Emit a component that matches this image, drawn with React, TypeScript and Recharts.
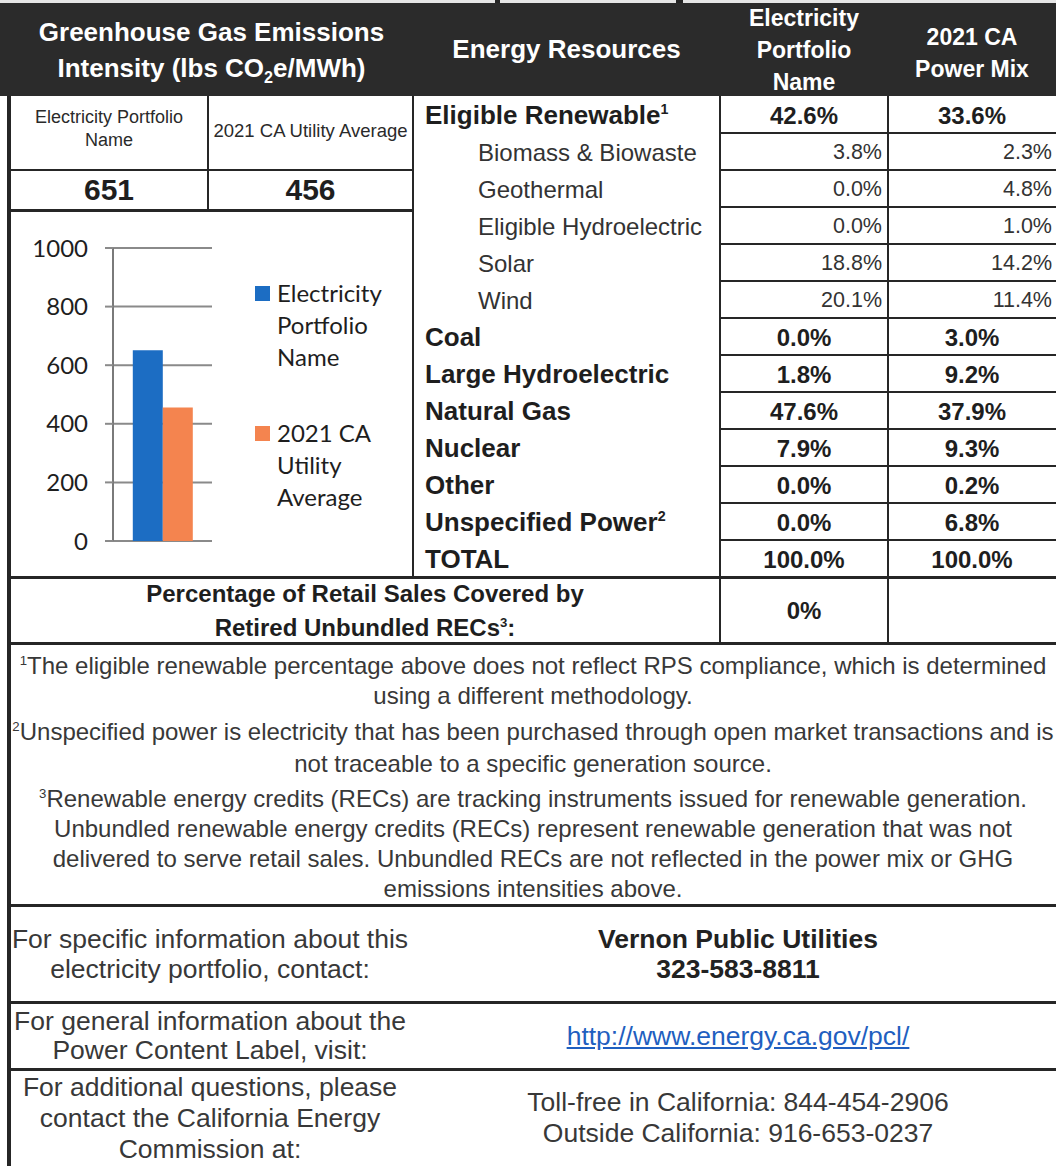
import React from "react";
import { Bar, BarChart, CartesianGrid, Legend, XAxis, YAxis } from "recharts";

// GHG intensity chart
const ghgCategories = ["GHG Emissions Intensity"];
const ghgPortfolio = [651];
const ghgUtilityAverage = [456];
const ghgTicks = [0, 200, 400, 600, 800, 1000];
const legendOrder = ["portfolio", "average"];
const legendLines: Record<string, string[]> = {
  portfolio: ["Electricity", "Portfolio", "Name"],
  average: ["2021 CA", "Utility", "Average"],
};

// power mix table
const resources = [
  "Eligible Renewable",
  "Biomass & Biowaste",
  "Geothermal",
  "Eligible Hydroelectric",
  "Solar",
  "Wind",
  "Coal",
  "Large Hydroelectric",
  "Natural Gas",
  "Nuclear",
  "Other",
  "Unspecified Power",
  "TOTAL",
];
const renewableParts = ["Biomass & Biowaste", "Geothermal", "Eligible Hydroelectric", "Solar", "Wind"];
const resourceNotes: Record<string, string> = { "Eligible Renewable": "1", "Unspecified Power": "2" };
const portfolioMix = [42.6, 3.8, 0.0, 0.0, 18.8, 20.1, 0.0, 1.8, 47.6, 7.9, 0.0, 0.0, 100.0];
const caPowerMix = [33.6, 2.3, 4.8, 1.0, 14.2, 11.4, 3.0, 9.2, 37.9, 9.3, 0.2, 6.8, 100.0];
const retiredRecs = [0];

const chartData = ghgCategories.map((name, i) => ({
  name,
  portfolio: ghgPortfolio[i],
  average: ghgUtilityAverage[i],
}));

const FONT = '"Liberation Sans", Arial, sans-serif';
const CHART_FONT = "Lato, sans-serif";
const LINE = "#262626";
const BLUE = "#1c6dc3";
const ORANGE = "#f4844f";

const ROW_TOP = 96;
const ROW_H = 37;

function HLine({ x1, x2, y, w = 2 }: { x1: number; x2: number; y: number; w?: number }) {
  return <div style={{ position: "absolute", left: x1, top: y - w / 2, width: x2 - x1, height: w, background: LINE }} />;
}

function VLine({ x, y1, y2, w = 2 }: { x: number; y1: number; y2: number; w?: number }) {
  return <div style={{ position: "absolute", left: x - w / 2, top: y1, width: w, height: y2 - y1, background: LINE }} />;
}

function Cell({
  left,
  top,
  width,
  height,
  align = "center",
  style,
  children,
}: {
  left: number;
  top: number;
  width: number;
  height: number;
  align?: "left" | "center" | "right";
  style?: React.CSSProperties;
  children: React.ReactNode;
}) {
  return (
    <div
      style={{
        position: "absolute",
        left,
        top,
        width,
        height,
        display: "flex",
        flexDirection: "column",
        justifyContent: "center",
        alignItems: align === "left" ? "flex-start" : align === "right" ? "flex-end" : "center",
        textAlign: align,
        whiteSpace: "nowrap",
        ...style,
      }}
    >
      {children}
    </div>
  );
}

const sup: React.CSSProperties = { fontSize: "0.55em", verticalAlign: "super", lineHeight: 0 };
const sub: React.CSSProperties = { fontSize: "0.62em", verticalAlign: "sub", lineHeight: 0 };

function LegendContent(props: any) {
  const payload = props.payload || [];
  return (
    <div style={{ fontFamily: CHART_FONT, fontSize: 24, color: "#1e1e1e", lineHeight: "32px", textAlign: "left" }}>
      {legendOrder.map((key, i) => {
        const entry = payload.find((p: any) => p.dataKey === key);
        if (!entry) return null;
        return (
          <div key={key} style={{ display: "flex", marginTop: i === 0 ? 0 : 44 }}>
            <div style={{ width: 15, height: 15, marginTop: 9, marginRight: 7, background: entry.color }} />
            <div>
              {legendLines[key].map((l) => (
                <div key={l}>{l}</div>
              ))}
            </div>
          </div>
        );
      })}
    </div>
  );
}

function GhgChart() {
  return (
    <BarChart
      width={402}
      height={366}
      data={chartData}
      margin={{ top: 36, right: 200, bottom: 37, left: 0 }}
      barCategoryGap="20%"
      barGap={0}
    >
      <CartesianGrid vertical={false} stroke="#8a8a8a" strokeWidth={2} />
      <XAxis dataKey="name" hide />
      <YAxis
        width={103}
        domain={[0, 1000]}
        ticks={ghgTicks}
        interval={0}
        axisLine={{ stroke: "#7a7a7a", strokeWidth: 2 }}
        tickLine={{ stroke: "#8a8a8a", strokeWidth: 2 }}
        tickSize={8}
        tickMargin={17}
        tick={{ fill: "#1e1e1e", fontSize: 24, fontFamily: CHART_FONT }}
      />
      <Legend
        layout="horizontal"
        verticalAlign="middle"
        align="center"
        content={LegendContent}
        wrapperStyle={{ left: 245, top: 65, width: 150, height: 260 }}
      />
      <Bar dataKey="portfolio" fill={BLUE} isAnimationActive={false} />
      <Bar dataKey="average" fill={ORANGE} isAnimationActive={false} />
    </BarChart>
  );
}

const fmt = (v: number) => v.toFixed(1) + "%";

const noteStyle: React.CSSProperties = {
  position: "absolute",
  left: 10,
  width: 1046,
  textAlign: "center",
  fontSize: 24,
  color: "#383838",
  whiteSpace: "nowrap",
};

export default function App() {
  const rowsBottom = ROW_TOP + resources.length * ROW_H;
  return (
    <div
      style={{
        position: "absolute",
        left: 0,
        top: 0,
        width: 1056,
        height: 1166,
        background: "#fff",
        overflow: "hidden",
        fontFamily: FONT,
        color: "#2a2a2a",
      }}
    >
      {/* top strip + header band */}
      <div style={{ position: "absolute", left: 0, top: 0, width: 1056, height: 3, background: "#e6e6e6" }} />
      <div style={{ position: "absolute", left: 495, top: 0, width: 5, height: 3, background: LINE }} />
      <div style={{ position: "absolute", left: 676, top: 0, width: 7, height: 3, background: LINE }} />
      <div style={{ position: "absolute", left: 0, top: 3, width: 1056, height: ROW_TOP - 3, background: "#2b2b2b" }} />

      <Cell left={10} top={3} width={403} height={93} style={{ color: "#fff", fontWeight: 700, fontSize: 26, lineHeight: "36px" }}>
        <div>Greenhouse Gas Emissions</div>
        <div>
          Intensity (lbs CO<span style={sub}>2</span>e/MWh)
        </div>
      </Cell>
      <Cell left={413} top={3} width={307} height={93} style={{ color: "#fff", fontWeight: 700, fontSize: 26 }}>
        Energy Resources
      </Cell>
      <Cell left={720} top={2} width={168} height={96} style={{ color: "#fff", fontWeight: 700, fontSize: 23, lineHeight: "32px" }}>
        <div>Electricity</div>
        <div>Portfolio</div>
        <div>Name</div>
      </Cell>
      <Cell left={888} top={3} width={168} height={99} style={{ color: "#fff", fontWeight: 700, fontSize: 23, lineHeight: "32px" }}>
        <div>2021 CA</div>
        <div>Power Mix</div>
      </Cell>

      {/* GHG labels and values */}
      <Cell left={10} top={ROW_TOP} width={198} height={74} style={{ fontSize: 18, lineHeight: "23px", justifyContent: "flex-start", paddingTop: 10, boxSizing: "border-box" }}>
        <div>Electricity Portfolio</div>
        <div>Name</div>
      </Cell>
      <Cell left={208} top={ROW_TOP} width={205} height={70} style={{ fontSize: 18.5 }}>
        2021 CA Utility Average
      </Cell>
      <Cell left={10} top={170} width={198} height={40} style={{ fontSize: 30, fontWeight: 700, color: "#1e1e1e" }}>
        {ghgPortfolio[0]}
      </Cell>
      <Cell left={208} top={170} width={205} height={40} style={{ fontSize: 30, fontWeight: 700, color: "#1e1e1e" }}>
        {ghgUtilityAverage[0]}
      </Cell>
      <div style={{ position: "absolute", left: 10, top: 212 }}>
        <GhgChart />
      </div>

      {/* power mix rows */}
      {resources.map((name, i) => {
        const top = ROW_TOP + i * ROW_H;
        const part = renewableParts.includes(name);
        const note = resourceNotes[name];
        return (
          <React.Fragment key={name}>
            <Cell
              left={part ? 478 : 425}
              top={top + 1}
              width={290}
              height={ROW_H}
              align="left"
              style={part ? { fontSize: 24, color: "#333" } : { fontSize: 26, fontWeight: 700, color: "#1e1e1e" }}
            >
              <div>
                {name}
                {note && <span style={sup}>{note}</span>}
              </div>
            </Cell>
            <Cell
              left={720}
              top={top + 1}
              width={168}
              height={ROW_H}
              align={part ? "right" : "center"}
              style={part ? { fontSize: 21.5, color: "#333", paddingRight: 6, boxSizing: "border-box" } : { fontSize: 24, fontWeight: 700, color: "#1e1e1e" }}
            >
              {fmt(portfolioMix[i])}
            </Cell>
            <Cell
              left={888}
              top={top + 1}
              width={168}
              height={ROW_H}
              align={part ? "right" : "center"}
              style={part ? { fontSize: 21.5, color: "#333", paddingRight: 4, boxSizing: "border-box" } : { fontSize: 24, fontWeight: 700, color: "#1e1e1e" }}
            >
              {fmt(caPowerMix[i])}
            </Cell>
            {i > 0 && <HLine x1={720} x2={1056} y={top} />}
          </React.Fragment>
        );
      })}

      {/* retired unbundled RECs */}
      <Cell left={10} top={578} width={710} height={65} style={{ fontSize: 24, fontWeight: 700, color: "#1e1e1e", lineHeight: "34px" }}>
        <div>Percentage of Retail Sales Covered by</div>
        <div>
          Retired Unbundled RECs<span style={sup}>3</span>:
        </div>
      </Cell>
      <Cell left={720} top={578} width={168} height={65} style={{ fontSize: 24, fontWeight: 700, color: "#1e1e1e" }}>
        {retiredRecs[0]}%
      </Cell>

      {/* footnotes */}
      <div style={{ ...noteStyle, top: 651, lineHeight: "30px" }}>
        <span style={sup}>1</span>The eligible renewable percentage above does not reflect RPS compliance, which is determined
        <br />
        using a different methodology.
      </div>
      <div style={{ ...noteStyle, top: 716, lineHeight: "32px" }}>
        <span style={sup}>2</span>Unspecified power is electricity that has been purchased through open market transactions and is
        <br />
        not traceable to a specific generation source.
      </div>
      <div style={{ ...noteStyle, top: 784, lineHeight: "30px" }}>
        <span style={sup}>3</span>Renewable energy credits (RECs) are tracking instruments issued for renewable generation.
        <br />
        Unbundled renewable energy credits (RECs) represent renewable generation that was not
        <br />
        delivered to serve retail sales. Unbundled RECs are not reflected in the power mix or GHG
        <br />
        emissions intensities above.
      </div>

      {/* contacts */}
      <Cell left={10} top={905} width={400} height={97} style={{ fontSize: 26.5, lineHeight: "30px", color: "#383838" }}>
        <div>For specific information about this</div>
        <div>electricity portfolio, contact:</div>
      </Cell>
      <Cell left={420} top={905} width={636} height={97} style={{ fontSize: 26.5, lineHeight: "30px", fontWeight: 700, color: "#222" }}>
        <div>Vernon Public Utilities</div>
        <div>323-583-8811</div>
      </Cell>
      <Cell left={10} top={1003} width={400} height={66} style={{ fontSize: 26.5, lineHeight: "29px", color: "#383838" }}>
        <div>For general information about the</div>
        <div>Power Content Label, visit:</div>
      </Cell>
      <Cell left={420} top={1003} width={636} height={66} style={{ fontSize: 26.5 }}>
        <span style={{ color: "#1f5fc0", textDecoration: "underline" }}>http://www.energy.ca.gov/pcl/</span>
      </Cell>
      <Cell left={10} top={1070} width={400} height={96} style={{ fontSize: 26.5, lineHeight: "31px", color: "#383838" }}>
        <div>For additional questions, please</div>
        <div>contact the California Energy</div>
        <div>Commission at:</div>
      </Cell>
      <Cell left={420} top={1070} width={636} height={96} style={{ fontSize: 26.5, lineHeight: "31px", color: "#383838" }}>
        <div>Toll-free in California: 844-454-2906</div>
        <div>Outside California: 916-653-0237</div>
      </Cell>

      {/* grid lines */}
      <VLine x={9} y1={ROW_TOP} y2={1166} w={4} />
      <VLine x={208} y1={ROW_TOP} y2={210} />
      <VLine x={413} y1={ROW_TOP} y2={rowsBottom} />
      <VLine x={720} y1={ROW_TOP} y2={643} />
      <VLine x={888} y1={ROW_TOP} y2={643} />
      <HLine x1={9} x2={413} y={170} />
      <HLine x1={9} x2={413} y={210} w={3} />
      <HLine x1={9} x2={1056} y={rowsBottom} w={3} />
      <HLine x1={9} x2={1056} y={643} w={3} />
      <HLine x1={9} x2={1056} y={905} w={3} />
      <HLine x1={9} x2={1056} y={1002} w={3} />
      <HLine x1={9} x2={1056} y={1069} w={3} />
    </div>
  );
}
